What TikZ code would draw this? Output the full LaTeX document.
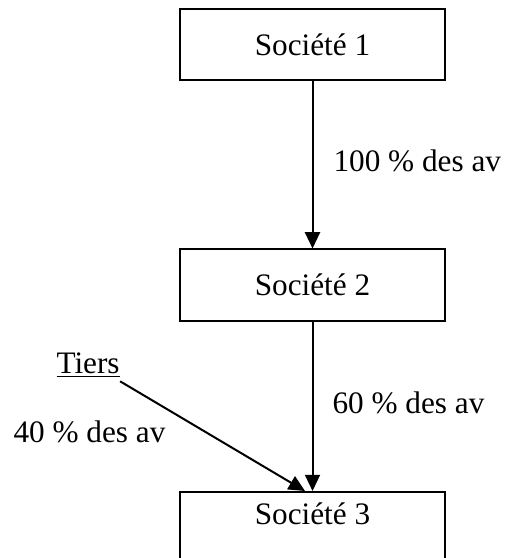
\documentclass[tikz,border=0pt]{standalone}
\usepackage{fontspec}
\setmainfont{Liberation Serif}
\usetikzlibrary{positioning,arrows.meta}

\begin{document}
\begin{tikzpicture}[x=0.4pt,y=-0.4pt,
    every node/.style={font=\fontsize{12.5}{15}\selectfont},
    societe/.style={draw,line width=0.8pt,minimum width=106pt,minimum height=28.4pt,inner sep=0pt},
    part/.style={anchor=base west,inner sep=0pt},
    lien/.style={line width=0.8pt,-{Triangle[width=6pt,length=6.5pt]}}]
\useasboundingbox (0,0) rectangle (509,558);
\clip (0,0) rectangle (509,558);
\node[societe] (s1) at (312.5,44.5) {Société 1};
\node[societe] (s2) at (312.5,285) {Société 2};
\node[societe,anchor=north,minimum height=0pt,text height=12.8pt,text depth=40pt] (s3) at (312.5,491) {Société 3};
\node[part] (tiers) at (56,373) {\underline{Tiers}};
\node[part] (p100) at (333,172) {100 \% des av};
\node[part] (p60) at (332,413) {60 \% des av};
\node[part] (p40) at (13,442) {40 \% des av};
\draw[lien] (s1) -- (s2);
\draw[lien] (s2) -- (s3);
\draw[lien] ([yshift=-1pt]tiers.south east) -- ([xshift=-3pt]s3.north);
\end{tikzpicture}
\end{document}
